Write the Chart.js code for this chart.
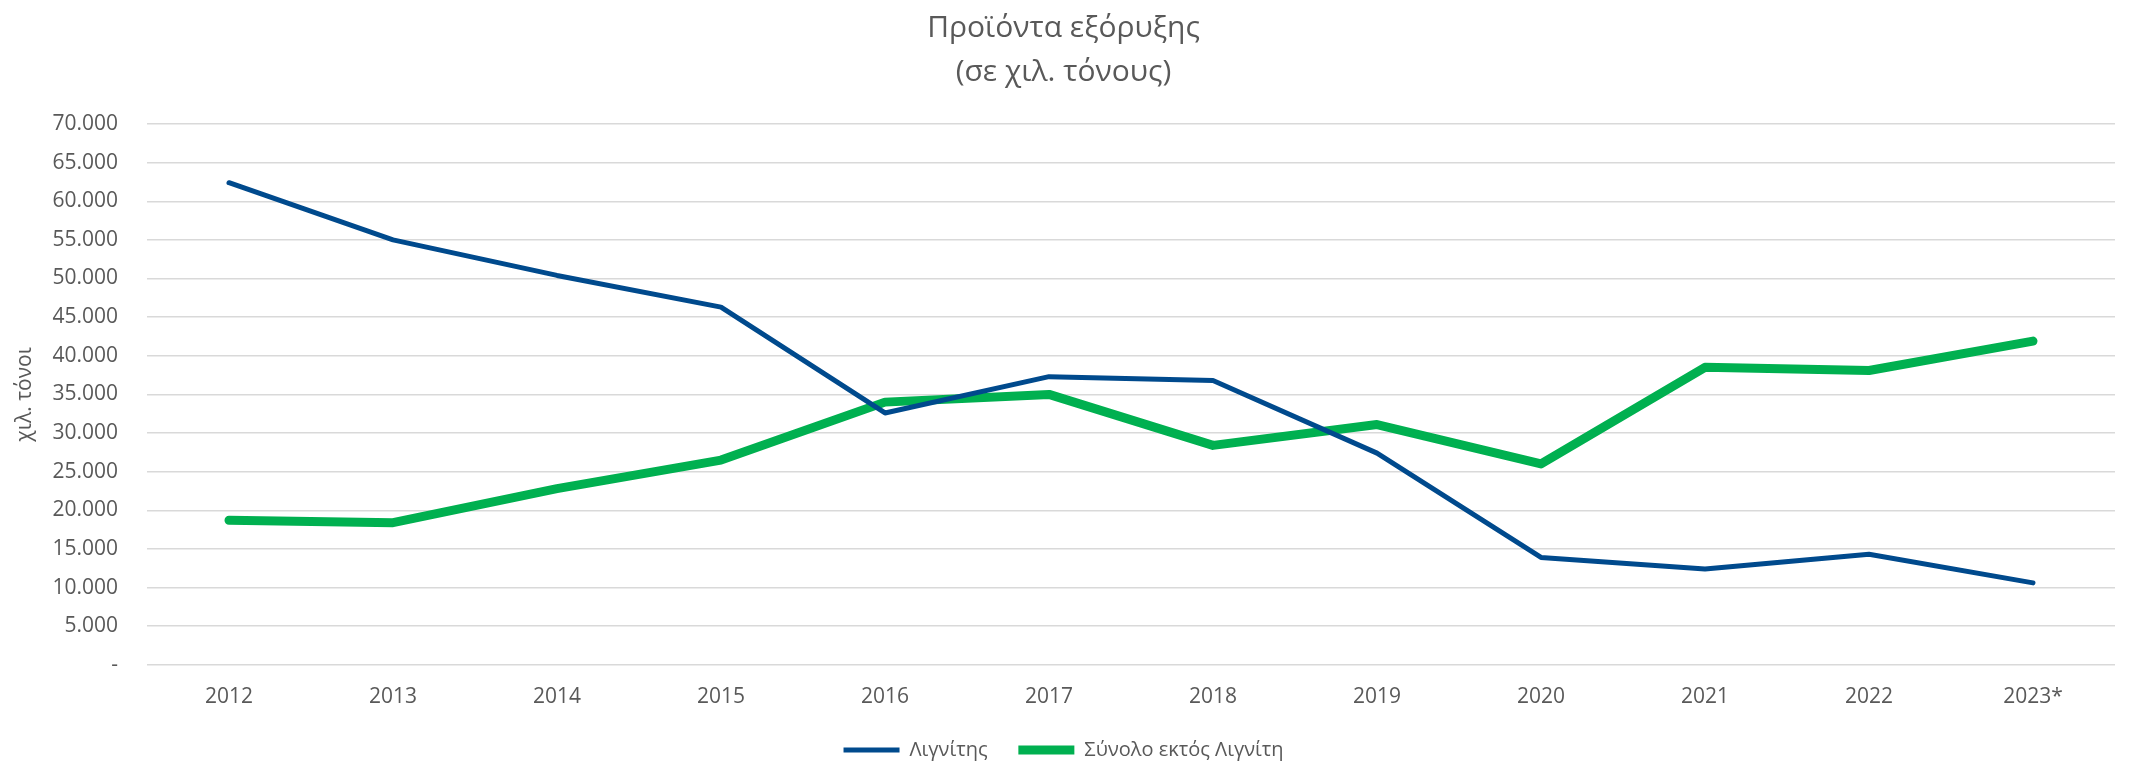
<!DOCTYPE html>
<html>
<head>
<meta charset="utf-8">
<script src="https://cdn.jsdelivr.net/npm/chart.js@4/dist/chart.umd.min.js"></script>
<style>
  html, body { margin: 0; padding: 0; background: #fff; }
  #wrap { width: 2153px; height: 763px; position: relative; }
</style>
</head>
<body>
<div id="wrap"><canvas id="miningChart"></canvas></div>
<script>
const years = ["2012", "2013", "2014", "2015", "2016", "2017", "2018", "2019", "2020", "2021", "2022", "2023*"];
const lignite = [62400, 55000, 50400, 46300, 32600, 37300, 36800, 27400, 13900, 12400, 14300, 10600];
const nonLignite = [18700, 18400, 22800, 26500, 34000, 35000, 28400, 31100, 26000, 38500, 38100, 41900];

const grey = "#595959";
const fontFamily = "'Open Sans', 'Noto Sans', sans-serif";

function formatTick(v) {
  if (v === 0) return "-";
  return v.toLocaleString("de-DE");
}

// keep the legend short so the x labels sit close to the plot
const legendHeight = {
  id: "legendHeight",
  beforeInit(chart) {
    const origFit = chart.legend.fit;
    chart.legend.fit = function () {
      origFit.call(this);
      this.height = 33;
    };
  },
};

const ctx = document.getElementById("miningChart").getContext("2d");

new Chart(ctx, {
  type: "line",
  data: {
    labels: years,
    datasets: [
      {
        label: "Λιγνίτης",
        data: lignite,
        borderColor: "#004A8D",
        backgroundColor: "#004A8D",
        borderWidth: 5,
        borderCapStyle: "round",
        borderJoinStyle: "round",
        pointRadius: 0,
        pointHoverRadius: 0,
        pointStyle: "line",
        tension: 0,
        fill: false,
      },
      {
        label: "Σύνολο εκτός Λιγνίτη",
        data: nonLignite,
        borderColor: "#00B050",
        backgroundColor: "#00B050",
        borderWidth: 9,
        borderCapStyle: "round",
        borderJoinStyle: "round",
        pointRadius: 0,
        pointHoverRadius: 0,
        pointStyle: "line",
        tension: 0,
        fill: false,
      },
    ],
  },
  options: {
    responsive: true,
    maintainAspectRatio: false,
    animation: false,
    layout: {
      padding: { left: 12, right: 38, top: 3, bottom: 0 },
    },
    scales: {
      x: {
        offset: true,
        grid: { display: false, drawTicks: false },
        border: { display: false },
        ticks: {
          color: grey,
          padding: 20,
          font: { family: fontFamily, size: 21 },
        },
      },
      y: {
        min: 0,
        max: 70000,
        afterFit(scale) {
          scale.width = 135;
        },
        grid: {
          color: "#D9D9D9",
          lineWidth: 1.5,
          drawTicks: false,
        },
        border: { display: false },
        ticks: {
          stepSize: 5000,
          color: grey,
          padding: 29,
          font: { family: fontFamily, size: 21 },
          callback: formatTick,
        },
        title: {
          display: true,
          text: "χιλ. τόνοι",
          color: grey,
          padding: { top: 0, bottom: 0 },
          font: { family: fontFamily, size: 21 },
        },
      },
    },
    plugins: {
      title: {
        display: true,
        text: ["Προϊόντα εξόρυξης", "(σε χιλ. τόνους)"],
        color: grey,
        padding: { top: 4, bottom: 30 },
        font: { family: fontFamily, size: 30, weight: "normal", lineHeight: 1.45 },
      },
      legend: {
        position: "bottom",
        labels: {
          usePointStyle: true,
          pointStyleWidth: 56,
          boxWidth: 56,
          color: grey,
          padding: 10,
          font: { family: fontFamily, size: 20 },
          generateLabels(chart) {
            const items = Chart.defaults.plugins.legend.labels.generateLabels(chart);
            items[0].text = items[0].text + "    ";
            return items;
          },
        },
      },
      tooltip: { enabled: false },
    },
  },
  plugins: [legendHeight],
});
</script>
</body>
</html>
